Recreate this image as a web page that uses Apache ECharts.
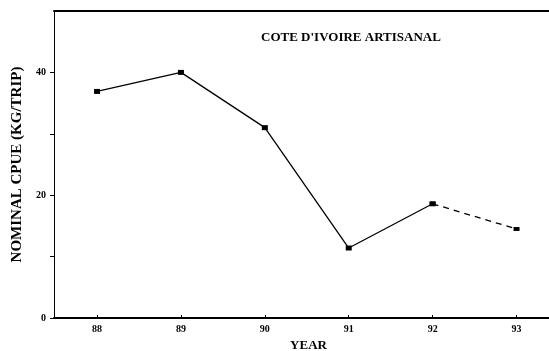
<!DOCTYPE html>
<html>
<head>
<meta charset="utf-8">
<script src="https://cdn.jsdelivr.net/npm/echarts@6/dist/echarts.min.js"></script>
<style>html,body{margin:0;padding:0;background:#fff;}#c{width:549px;height:351px;}</style>
</head>
<body>
<div id="c"></div>
<script>
const years = [88, 89, 90, 91, 92, 93];
const cpue = [36.9, 40.0, 31.0, 11.4, 18.6, 14.5];
const yTickLabels = [0, 20, 40];
const titleText = "COTE D'IVOIRE ARTISANAL";
const yName = "NOMINAL CPUE (KG/TRIP)";
const xName = "YEAR";

const solidPart = years.slice(0, 5).map((y, i) => [y, cpue[i]]);
const dashedPart = years.slice(4).map((y, i) => [y, cpue[i + 4]]);

const chart = echarts.init(document.getElementById('c'), null, {renderer: 'canvas'});
const fontFam = "'Liberation Serif', 'DejaVu Serif', serif";
chart.setOption({
  animation: false,
  backgroundColor: '#fff',
  title: {
    text: titleText,
    left: 256, top: 26,
    textStyle: {fontFamily: fontFam, fontWeight: 'bold', fontSize: 13, color: '#000'}
  },
  grid: {left: 54, right: 0, top: 11, bottom: 33, containLabel: false, outerBoundsMode: 'none'},
  xAxis: [{
    type: 'value', min: 87.487, max: 93.387,
    position: 'bottom',
    name: xName, nameLocation: 'middle', nameGap: 20,
    nameTextStyle: {fontFamily: fontFam, fontWeight: 'bold', fontSize: 13, color: '#000', padding: [0, 0, 0, 14]},
    axisLine: {show: true, onZero: false, lineStyle: {color: '#000', width: 2}},
    axisTick: {show: true, inside: true, length: 3, customValues: years, lineStyle: {color: '#000'}},
    axisLabel: {customValues: years, margin: 6, fontFamily: fontFam, fontWeight: 'bold', fontSize: 10, color: '#000'},
    splitLine: {show: false}
  }, {
    type: 'value', min: 87.487, max: 93.387, position: 'top',
    axisLine: {show: true, onZero: false, lineStyle: {color: '#000', width: 2}},
    axisTick: {show: false}, axisLabel: {show: false}, splitLine: {show: false}
  }],
  yAxis: {
    type: 'value', min: 0, max: 50, interval: 10,
    name: yName, nameLocation: 'middle', nameGap: 28, nameRotate: 90,
    nameTextStyle: {fontFamily: fontFam, fontWeight: 'bold', fontSize: 15, color: '#000'},
    axisLine: {show: true, lineStyle: {color: '#000', width: 1}},
    axisTick: {show: true, inside: false, length: 4, customValues: [0, 10, 20, 30, 40], lineStyle: {color: '#000'}},
    axisLabel: {
      margin: 8, fontFamily: fontFam, fontWeight: 'bold', fontSize: 10, color: '#000',
      formatter: v => (yTickLabels.indexOf(v) >= 0 ? String(v) : '')
    },
    splitLine: {show: false}
  },
  series: [{
    type: 'line', data: solidPart, symbol: 'rect', symbolSize: [6, 5],
    itemStyle: {color: '#000'}, lineStyle: {color: '#000', width: 1.3}
  }, {
    type: 'line', data: dashedPart, symbol: 'rect', symbolSize: [6, 4],
    itemStyle: {color: '#000'}, lineStyle: {color: '#000', width: 1.3, type: [6, 5]}
  }]
});
</script>
</body>
</html>
